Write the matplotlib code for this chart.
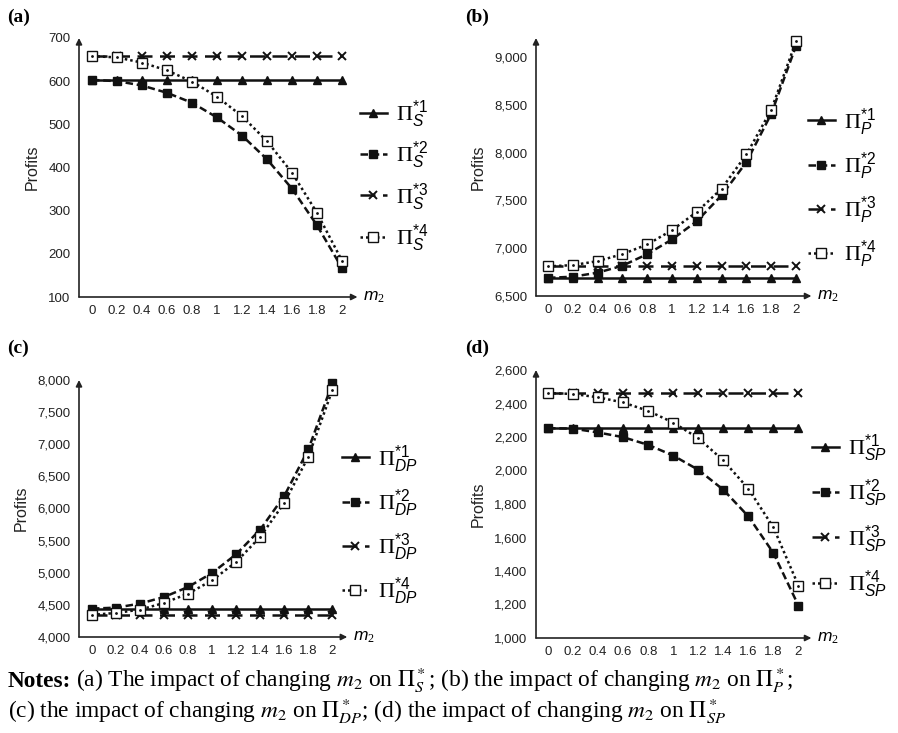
import matplotlib.pyplot as plt
import numpy as np

plt.rcParams['font.family'] = ['Liberation Sans', 'DejaVu Sans']
plt.rcParams['mathtext.fontset'] = 'custom'
plt.rcParams['mathtext.rm'] = 'Liberation Serif'
plt.rcParams['mathtext.it'] = 'Liberation Sans:italic'
plt.rcParams['mathtext.sf'] = 'Liberation Sans'

m2 = [0, 0.2, 0.4, 0.6, 0.8, 1, 1.2, 1.4, 1.6, 1.8, 2]
m2_labels = ['0', '0.2', '0.4', '0.6', '0.8', '1', '1.2', '1.4', '1.6', '1.8', '2']

# (a) supplier profits
s1 = [603] * 11
s2 = [603, 600, 590, 573, 550, 516, 474, 419, 351, 266, 167]
s3 = [658] * 11
s4 = [658, 655, 643, 625, 599, 564, 519, 461, 388, 295, 184]

# (b) platform profits
p1 = [6690] * 11
p2 = [6690, 6702, 6744, 6817, 6938, 7092, 7283, 7554, 7902, 8407, 9120]
p3 = [6810] * 11
p4 = [6810, 6823, 6865, 6938, 7039, 7189, 7380, 7624, 7982, 8449, 9166]

# (c) DP profits
dp1 = [4440] * 11
dp2 = [4442, 4457, 4520, 4623, 4779, 4997, 5288, 5673, 6197, 6920, 7948]
dp3 = [4345] * 11
dp4 = [4345, 4374, 4426, 4530, 4675, 4883, 5169, 5559, 6088, 6805, 7844]

# (d) SP profits
sp1 = [2253] * 11
sp2 = [2253, 2250, 2227, 2199, 2153, 2089, 2004, 1885, 1726, 1507, 1193]
sp3 = [2462] * 11
sp4 = [2462, 2457, 2437, 2406, 2356, 2286, 2193, 2060, 1891, 1660, 1312]

W, H = 898, 733
fig = plt.figure(figsize=(W / 100, H / 100), dpi=100)


def px_axes(l, r, b, t):
    return fig.add_axes([l / W, 1 - b / H, (r - l) / W, (b - t) / H])


panels = [
    dict(box=(79, 352, 297, 38), xl=(-0.104, 2.08), yl=(100, 700),
         yt=[100, 200, 300, 400, 500, 600, 700], fmt='{:d}',
         data=(s1, s2, s3, s4), sub='S', tag='(a)', tagxy=(7, 17),
         leg=(360, 176), sp=0.42),
    dict(box=(536, 806, 296, 38), xl=(-0.097, 2.08), yl=(6500, 9200),
         yt=[6500, 7000, 7500, 8000, 8500, 9000], fmt='{:,d}',
         data=(p1, p2, p3, p4), sub='P', tag='(b)', tagxy=(465, 17),
         leg=(808, 188), sp=0.55),
    dict(box=(79, 342, 637, 380), xl=(-0.108, 2.08), yl=(4000, 8000),
         yt=[4000, 4500, 5000, 5500, 6000, 6500, 7000, 7500, 8000], fmt='{:,d}',
         data=(dp1, dp2, dp3, dp4), sub='DP', tag='(c)', tagxy=(7, 348),
         leg=(342, 525), sp=0.55),
    dict(box=(536, 806, 638, 370), xl=(-0.096, 2.06), yl=(1000, 2600),
         yt=[1000, 1200, 1400, 1600, 1800, 2000, 2200, 2400, 2600], fmt='{:,d}',
         data=(sp1, sp2, sp3, sp4), sub='SP', tag='(d)', tagxy=(465, 348),
         leg=(812, 516), sp=0.6),
]

styles = [
    dict(ls='-', marker='^', ms=5.5, mfc='#111111'),
    dict(ls=(0, (3, 1.5)), marker='s', ms=6, mfc='#111111'),
    dict(ls=(0, (6, 3)), marker='x', ms=5.5, mfc='#111111', mew=1.4),
    dict(ls=(0, (1, 1.2)), marker='s', ms=6.5, mfc='white', mew=1.0),
]

for p in panels:
    ax = px_axes(*p['box'])
    handles = []
    for k, (y, st) in enumerate(zip(p['data'], styles)):
        h, = ax.plot(m2, y, color='#111111', lw=1.8, ls=st['ls'],
                     marker=st['marker'], ms=st['ms'], mfc=st['mfc'],
                     mec='#111111', mew=st.get('mew', 1.0), clip_on=False,
                     label=r'$\Pi_{%s}^{\mathsf{*%d}}$' % (p['sub'], k + 1))
        if k == 3:
            ax.plot(m2, y, ls='none', marker='.', ms=2, color='#111111',
                    clip_on=False)
        handles.append(h)
    ax.set_xlim(*p['xl'])
    ax.set_ylim(*p['yl'])
    ax.set_xticks(m2)
    ax.set_xticklabels(m2_labels)
    ax.set_yticks(p['yt'])
    ax.set_yticklabels([p['fmt'].format(v) for v in p['yt']])
    ax.tick_params(length=0, labelsize=9.5, pad=6, colors='#222222')
    for s in ax.spines.values():
        s.set_visible(False)
    ax.annotate('', xy=(1.02, 0), xytext=(0, 0), xycoords='axes fraction',
                arrowprops=dict(arrowstyle='-|>', color='#222222', lw=1.2,
                                mutation_scale=9, shrinkA=0, shrinkB=0))
    ax.annotate('', xy=(0, 1.0), xytext=(0, 0), xycoords='axes fraction',
                arrowprops=dict(arrowstyle='-|>', color='#222222', lw=1.2,
                                mutation_scale=9, shrinkA=0, shrinkB=0))
    ax.text(1.04, 0, r'$m_2$', transform=ax.transAxes, fontsize=12.5,
            ha='left', va='center')
    ax.set_ylabel('Profits', fontsize=11.5, labelpad=6, color='#222222')
    fig.text(p['tagxy'][0] / W, 1 - p['tagxy'][1] / H, p['tag'],
             family='Liberation Serif', weight='bold', fontsize=14,
             ha='left', va='center')
    fig.legend(handles=handles, loc='center left',
               bbox_to_anchor=(p['leg'][0] / W, 1 - p['leg'][1] / H),
               frameon=False, fontsize=16, handlelength=1.2,
               handletextpad=0.4, labelspacing=p['sp'], borderaxespad=0,
               borderpad=0)

notes_head = 'Notes:'
notes1 = (r'(a) The impact of changing $m_2$ on $\Pi^*_S$; '
          r'(b) the impact of changing $m_2$ on $\Pi^*_P$;')
notes2 = (r'(c) the impact of changing $m_2$ on $\Pi^*_{DP}$; '
          r'(d) the impact of changing $m_2$ on $\Pi^*_{SP}$')
nfs = 16.8
head = fig.text(8 / W, 1 - 687 / H, notes_head, family='Liberation Serif',
                weight='bold', fontsize=nfs, ha='left', va='baseline')
fig.canvas.draw()
hx = head.get_window_extent().x1
fig.text((hx + 5) / W, 1 - 687 / H, notes1, family='Liberation Serif',
         fontsize=nfs, math_fontfamily='stix', ha='left', va='baseline')
fig.text(8 / W, 1 - 718 / H, notes2, family='Liberation Serif', fontsize=nfs,
         math_fontfamily='stix', ha='left', va='baseline')

fig.savefig('out.png', dpi=100)
